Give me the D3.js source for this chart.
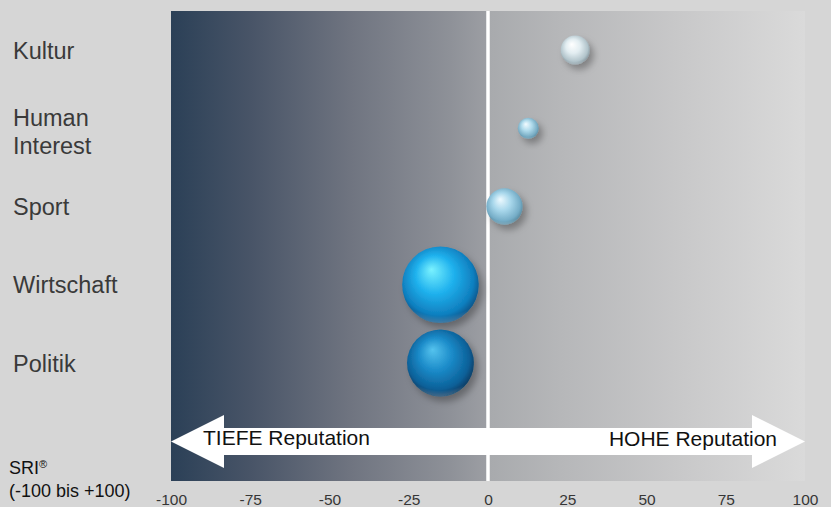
<!DOCTYPE html>
<html>
<head>
<meta charset="utf-8">
<script src="https://cdn.jsdelivr.net/npm/d3@7/dist/d3.min.js"></script>
<style>
  html, body { margin: 0; padding: 0; background: #d6d6d6; }
  svg { display: block; }
  text { font-family: "Liberation Sans", Arial, sans-serif; }
</style>
</head>
<body>
<svg id="chart" width="831" height="507"></svg>
<script>
// Themenbereiche und ihr Reputationsindex (SRI, -100 bis +100)
const categories = ["Kultur", "Human Interest", "Sport", "Wirtschaft", "Politik"];
const sriValues = [27.5, 12.7, 5.2, -15, -15];
// Gewicht (Beitragsvolumen) bestimmt die Blasenfläche
const weights = [21, 11, 33, 147, 112];
const xTicks = [-100, -75, -50, -25, 0, 25, 50, 75, 100];
const leftArrowLabel = "TIEFE Reputation";
const rightArrowLabel = "HOHE Reputation";

// Kugelfarben: Glanzlicht, Mitte, Rand, Kante
const sphereColors = [
  ["#ffffff", "#e2edf1", "#b2c4cb", "#8a9ca4"],
  ["#f2fbff", "#b0dbec", "#79adc4", "#5c90a8"],
  ["#eefaff", "#a8d7eb", "#75adc7", "#5a8ca2"],
  ["#7af2ff", "#20b2ee", "#0f7fbf", "#08558a"],
  ["#55c3ee", "#1b8bc9", "#0c6098", "#063c64"]
];

const svg = d3.select("#chart");
const plot = { left: 171, right: 805, top: 11, bottom: 481 };

const x = d3.scaleLinear().domain([-100, 100]).range([plot.left, plot.right]);
const y = d3.scalePoint().domain(categories).range([50, 363]);
const r = d3.scaleSqrt().domain([0, d3.max(weights)]).range([0, 38.3]);

const defs = svg.append("defs");

// Hintergrundverlauf des Diagrammbereichs
const bg = defs.append("linearGradient").attr("id", "bgGrad")
  .attr("x1", "0%").attr("x2", "100%").attr("y1", "0%").attr("y2", "0%");
[
  [0, "#2b4057"], [0.125, "#485467"], [0.282, "#6f7480"], [0.44, "#8e9198"],
  [0.497, "#9c9ea3"], [0.503, "#a8aaad"], [0.614, "#b6b7b9"], [0.8, "#c8c8c9"], [1, "#dadada"]
].forEach(([o, c]) => bg.append("stop").attr("offset", o).attr("stop-color", c));

// Schatten der Kugeln
const shadow = defs.append("filter").attr("id", "ballShadow")
  .attr("x", "-50%").attr("y", "-50%").attr("width", "200%").attr("height", "200%");
shadow.append("feDropShadow").attr("dx", 4).attr("dy", 5).attr("stdDeviation", 3.5)
  .attr("flood-color", "#000").attr("flood-opacity", 0.3);

sphereColors.forEach((cols, i) => {
  const g = defs.append("radialGradient").attr("id", "sphere" + i)
    .attr("cx", "48%").attr("cy", "45%").attr("r", "55%")
    .attr("fx", "38%").attr("fy", "30%");
  g.append("stop").attr("offset", 0).attr("stop-color", cols[0]);
  g.append("stop").attr("offset", 0.45).attr("stop-color", cols[1]);
  g.append("stop").attr("offset", 0.85).attr("stop-color", cols[2]);
  g.append("stop").attr("offset", 1).attr("stop-color", cols[3]);
});
// Reflex am unteren Rand
const rim = defs.append("radialGradient").attr("id", "rimGlow")
  .attr("cx", "50%").attr("cy", "10%").attr("r", "95%");
rim.append("stop").attr("offset", 0.85).attr("stop-color", "#fff").attr("stop-opacity", 0);
rim.append("stop").attr("offset", 1).attr("stop-color", "#fff").attr("stop-opacity", 0.35);

// Diagrammfläche
svg.append("rect")
  .attr("x", plot.left).attr("y", plot.top)
  .attr("width", plot.right - plot.left).attr("height", plot.bottom - plot.top)
  .attr("fill", "url(#bgGrad)");

// Pfeile für tiefe / hohe Reputation
const arrowMid = 441.5, bodyHalf = 13.5, headHalf = 26.5, headLen = 53;
const xl = x(-100), xr = x(100);
const arrowPath = d3.path();
arrowPath.moveTo(xl, arrowMid);
arrowPath.lineTo(xl + headLen, arrowMid - headHalf);
arrowPath.lineTo(xl + headLen, arrowMid - bodyHalf);
arrowPath.lineTo(xr - headLen, arrowMid - bodyHalf);
arrowPath.lineTo(xr - headLen, arrowMid - headHalf);
arrowPath.lineTo(xr, arrowMid);
arrowPath.lineTo(xr - headLen, arrowMid + headHalf);
arrowPath.lineTo(xr - headLen, arrowMid + bodyHalf);
arrowPath.lineTo(xl + headLen, arrowMid + bodyHalf);
arrowPath.lineTo(xl + headLen, arrowMid + headHalf);
arrowPath.closePath();
svg.append("path").attr("d", arrowPath.toString()).attr("fill", "#ffffff");

// Nulllinie
svg.append("line")
  .attr("x1", x(0)).attr("x2", x(0))
  .attr("y1", plot.top).attr("y2", plot.bottom)
  .attr("stroke", "#ffffff").attr("stroke-width", 3.5);

svg.append("text").attr("x", 203).attr("y", 445)
  .attr("font-size", 21).attr("fill", "#111").text(leftArrowLabel);
svg.append("text").attr("x", 777).attr("y", 446).attr("text-anchor", "end")
  .attr("font-size", 21).attr("fill", "#111").text(rightArrowLabel);

// Kugeln
const balls = svg.append("g");
categories.forEach((c, i) => {
  const cx = x(sriValues[i]), cy = y(c), rr = r(weights[i]);
  balls.append("circle").attr("cx", cx).attr("cy", cy).attr("r", rr)
    .attr("fill", `url(#sphere${i})`).attr("filter", "url(#ballShadow)");
  balls.append("circle").attr("cx", cx).attr("cy", cy).attr("r", rr)
    .attr("fill", "url(#rimGlow)");
});

// Kategoriebeschriftungen
const labels = svg.append("g").attr("fill", "#3a3a3a").attr("font-size", 23.5);
categories.forEach(c => {
  const words = c.split(" ");
  const t = labels.append("text").attr("x", 13);
  if (words.length === 1) {
    t.attr("y", y(c) + 8.5).text(c);
  } else {
    words.forEach((w, k) => {
      t.append("tspan").attr("x", 13).attr("y", y(c) - 2 + k * 28).text(w);
    });
  }
});

// x-Achse
const axis = d3.axisBottom(x).tickValues(xTicks).tickSize(0).tickPadding(0)
  .tickFormat(d => String(d));
const axisG = svg.append("g").attr("transform", `translate(0, ${plot.bottom})`).call(axis);
axisG.select(".domain").remove();
axisG.selectAll("text")
  .attr("dy", null).attr("y", 24)
  .attr("font-size", 15.5).attr("fill", "#363636")
  .attr("font-family", "Liberation Sans, Arial, sans-serif");

// Achsentitel
const title = svg.append("text").attr("x", 9).attr("y", 474)
  .attr("font-size", 18).attr("fill", "#111");
title.append("tspan").text("SRI");
title.append("tspan").attr("font-size", 11).attr("dy", -6).text("®");
svg.append("text").attr("x", 9).attr("y", 497)
  .attr("font-size", 18).attr("fill", "#111").text("(-100 bis +100)");
</script>
</body>
</html>
